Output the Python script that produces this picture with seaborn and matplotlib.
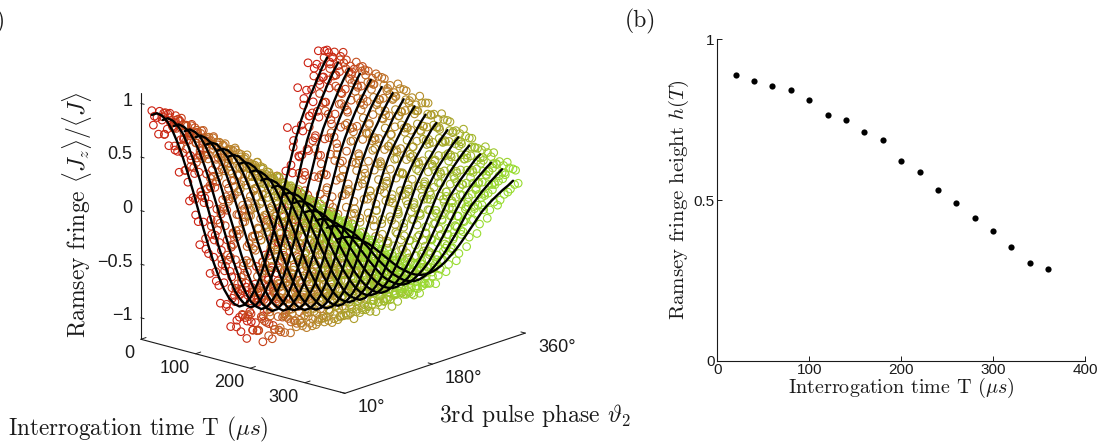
import matplotlib
matplotlib.use('Agg')
from matplotlib import pyplot as plt
import seaborn as sns
import pandas as pd

# valores
times = [20, 40, 60, 80, 100, 120, 140, 160, 180, 200, 220, 240, 260, 280, 300, 320, 340, 360]
heights = [.890, .869, .856, .841, .810, .765, .749, .711, .687, .620, .586, .532, .492, .444, .404, .354, .305, .286]

fit_phases = [10, 30, 50, 70, 90, 110, 130, 150, 170, 190, 210, 230, 250, 270, 290, 310, 330, 350]
fit_z = [
    [.92, .88, .71, .43, .08, -.30, -.65, -.93, -1.10, -1.14, -1.03, -.80, -.48, -.11, .26, .53, .73, .91],
    [.90, .86, .70, .42, .08, -.30, -.64, -.92, -1.08, -1.12, -1.01, -.79, -.48, -.11, .26, .52, .72, .89],
    [.87, .83, .67, .40, .06, -.30, -.64, -.91, -1.07, -1.11, -1.01, -.79, -.48, -.12, .24, .49, .69, .86],
    [.85, .81, .65, .39, .05, -.30, -.64, -.90, -1.06, -1.10, -1.00, -.78, -.48, -.125, .23, .48, .67, .84],
    [.82, .78, .63, .37, .05, -.30, -.62, -.88, -1.03, -1.07, -.97, -.76, -.47, -.125, .22, .46, .65, .81],
    [.78, .75, .60, .35, .04, -.30, -.61, -.86, -1.01, -1.04, -.94, -.74, -.46, -.13, .20, .43, .62, .77],
    [.75, .72, .57, .33, .03, -.29, -.59, -.83, -.98, -1.01, -.92, -.72, -.45, -.13, .19, .42, .59, .74],
    [.72, .69, .55, .32, .03, -.29, -.58, -.81, -.95, -.98, -.89, -.70, -.44, -.13, .18, .40, .57, .71],
    [.68, .65, .52, .30, .02, -.28, -.56, -.78, -.91, -.94, -.85, -.68, -.42, -.13, .16, .37, .53, .67],
    [.63, .60, .48, .27, .01, -.27, -.53, -.74, -.86, -.89, -.81, -.64, -.41, -.13, .15, .34, .49, .62],
    [.58, .55, .44, .25, .005, -.255, -.50, -.69, -.80, -.83, -.76, -.60, -.38, -.125, .13, .31, .45, .57],
    [.54, .51, .41, .23, 0, -.24, -.47, -.65, -.75, -.78, -.71, -.56, -.36, -.12, .12, .29, .42, .53],
    [.50, .48, .38, .21, .01, -.22, -.42, -.59, -.69, -.71, -.65, -.51, -.32, -.105, .11, .27, .39, .49],
    [.45, .43, .34, .19, 0, -.21, -.40, -.55, -.64, -.66, -.60, -.48, -.31, -.105, .10, .24, .35, .44],
    [.39, .37, .29, .16, -.01, -.19, -.36, -.49, -.57, -.59, -.54, -.43, -.28, -.10, .08, .20, .30, .385],
    [.34, .32, .25, .13, -.015, -.175, -.32, -.44, -.51, -.53, -.48, -.39, -.25, -.095, .06, .175, .26, .335],
    [.30, .285, .22, .12, -.01, -.16, -.29, -.39, -.455, -.47, -.43, -.345, -.225, -.085, .055, .15, .23, .30],
    [.22, .21, .16, .08, -.025, -.135, -.24, -.32, -.37, -.38, -.35, -.28, -.19, -.08, .03, .105, .166, .22],
]

fit_phases_mid = [20, 40, 60, 80, 100, 120, 140, 160, 180, 200, 220, 240, 260, 280, 300, 320, 340]
fit_z_mid = [
    [.92, .81, .58, .26, -.11, -.48, -.80, -1.03, -1.14, -1.10, -.93, -.65, -.30, .08, .41, .63, .83],
    [.90, .79, .57, .26, -.11, -.48, -.79, -1.01, -1.12, -1.08, -.92, -.64, -.30, .08, .40, .62, .81],
    [.87, .77, .55, .24, -.12, -.48, -.79, -1.01, -1.11, -1.07, -.91, -.64, -.30, .06, .38, .59, .78],
    [.85, .75, .53, .23, -.125, -.48, -.78, -1.00, -1.10, -1.06, -.90, -.64, -.30, .05, .37, .58, .76],
    [.82, .72, .51, .22, -.125, -.47, -.76, -.97, -1.07, -1.03, -.88, -.62, -.30, .05, .35, .56, .735],
    [.78, .68, .48, .20, -.13, -.46, -.74, -.94, -1.04, -1.01, -.86, -.61, -.30, .04, .33, .525, .70],
    [.75, .66, .46, .19, -.13, -.45, -.72, -.92, -1.01, -.98, -.83, -.59, -.29, .03, .31, .50, .67],
    [.72, .63, .44, .18, -.13, -.44, -.70, -.89, -.98, -.95, -.81, -.58, -.29, .03, .30, .48, .64],
    [.68, .60, .42, .16, -.13, -.42, -.68, -.85, -.94, -.91, -.78, -.56, -.28, .02, .28, .45, .61],
    [.63, .55, .38, .15, -.13, -.41, -.64, -.81, -.89, -.86, -.74, -.53, -.27, .01, .25, .42, .56],
    [.58, .51, .35, .13, -.125, -.38, -.60, -.76, -.83, -.80, -.69, -.50, -.255, .005, .23, .38, .52],
    [.54, .47, .32, .12, -.12, -.36, -.56, -.71, -.78, -.75, -.65, -.47, -.24, 0, .21, .355, .48],
    [.50, .44, .30, .11, -.105, -.32, -.51, -.65, -.71, -.69, -.59, -.42, -.22, .01, .19, .33, .445],
    [.45, .39, .27, .10, -.105, -.31, -.48, -.60, -.66, -.64, -.55, -.40, -.21, 0, .17, .295, .40],
    [.39, .34, .23, .08, -.10, -.28, -.43, -.54, -.59, -.57, -.49, -.36, -.19, -.01, .14, .25, .35],
    [.34, .29, .20, .06, -.095, -.25, -.39, -.48, -.53, -.51, -.44, -.32, -.175, -.015, .12, .22, .30],
    [.30, .26, .175, .055, -.085, -.225, -.345, -.43, -.47, -.455, -.39, -.29, -.16, -.01, .10, .19, .265],
    [.22, .19, .12, .03, -.08, -.19, -.28, -.35, -.38, -.37, -.32, -.24, -.135, -.025, .07, .136, .19],
]

scatter_phases = list(range(10, 361, 10))
scatter_z = [
    [.96, .88, .84, .74, .75, .50, .47, .18, .02, -.22, -.24, -.55, -.60, -.88, -.87, -1.15, -1.02, -1.24, -1.09, -1.22, -.98, -1.03, -.74, -.72, -.41, -.37, -.02, .02, .33, .36, .67, .66, .88, .84, .98, .90],
    [.93, .94, .80, .86, .66, .63, .36, .30, .00, -.03, -.38, -.42, -.70, -.72, -1.02, -.97, -1.20, -1.06, -1.28, -1.02, -1.12, -.84, -.88, -.58, -.55, -.20, -.18, .14, .18, .50, .50, .80, .76, .95, .86, .97],
    [.85, .90, .78, .76, .74, .52, .50, .20, .17, -.18, -.22, -.53, -.57, -.86, -.82, -1.12, -1.03, -1.18, -1.25, -1.03, -1.06, -.72, -.83, -.40, -.53, -.03, -.19, .30, .15, .62, .50, .84, .71, .93, .83, .84],
    [.90, .79, .85, .62, .70, .33, .44, -.01, .11, -.36, -.24, -.69, -.55, -.97, -.85, -1.14, -1.00, -1.36, -1.05, -1.19, -.91, -1.00, -.68, -.72, -.36, -.38, .00, .02, .34, .33, .62, .58, .82, .79, .90, .86],
    [.77, .84, .72, .74, .55, .55, .29, .30, -.03, -.01, -.36, -.28, -.67, -.55, -.94, -.82, -1.11, -.98, -1.16, -1.00, -1.08, -.81, -.85, -.53, -.58, -.16, -.22, .17, .13, .47, .42, .75, .63, .87, .78, .85],
    [.83, .72, .77, .58, .66, .43, .40, .10, .09, -.23, -.16, -.55, -.45, -.77, -.74, -1.06, -.92, -1.14, -1.07, -1.12, -.89, -.98, -.60, -.76, -.27, -.45, .05, -.12, .36, .14, .62, .39, .78, .62, .86, .72],
    [.72, .78, .64, .70, .45, .52, .18, .26, -.11, -.02, -.39, -.22, -.69, -.47, -.92, -.74, -1.09, -.90, -1.15, -.94, -1.05, -.75, -.83, -.50, -.57, -.18, -.26, .13, .06, .44, .36, .70, .54, .80, .68, .81],
    [.75, .68, .72, .57, .60, .34, .41, .06, .11, -.25, -.15, -.52, -.42, -.75, -.68, -.94, -.86, -1.12, -.91, -1.08, -.82, -.94, -.58, -.69, -.29, -.44, .05, -.11, .33, .19, .59, .32, .75, .57, .80, .66],
    [.65, .71, .60, .62, .44, .48, .15, .27, -.10, .00, -.36, -.20, -.63, -.46, -.87, -.68, -1.02, -.83, -1.09, -.86, -.97, -.68, -.83, -.48, -.58, -.18, -.26, .10, .02, .38, .32, .63, .50, .74, .60, .75],
    [.66, .58, .65, .47, .53, .28, .36, .02, .09, -.20, -.13, -.49, -.40, -.68, -.58, -.84, -.76, -1.02, -.81, -1.01, -.75, -.87, -.52, -.62, -.26, -.39, .02, -.08, .30, .16, .52, .30, .69, .49, .73, .60],
    [.56, .62, .52, .57, .36, .44, .12, .26, -.08, .03, -.32, -.18, -.58, -.39, -.79, -.61, -.94, -.74, -1.00, -.78, -.90, -.63, -.76, -.45, -.52, -.16, -.25, .05, .00, .33, .26, .54, .44, .66, .53, .64],
    [.58, .50, .55, .42, .47, .24, .32, .00, .08, -.19, -.15, -.42, -.38, -.61, -.55, -.77, -.66, -.90, -.72, -.92, -.67, -.81, -.48, -.60, -.26, -.35, .00, -.12, .26, .06, .46, .26, .59, .44, .62, .49],
    [.47, .54, .44, .50, .30, .38, .10, .22, -.08, .04, -.30, -.14, -.50, -.34, -.69, -.53, -.83, -.62, -.88, -.67, -.79, -.57, -.65, -.38, -.43, -.13, -.20, .05, .01, .30, .19, .49, .37, .56, .46, .55],
    [.50, .41, .47, .33, .40, .16, .26, -.04, .06, -.17, -.13, -.38, -.30, -.52, -.46, -.70, -.58, -.78, -.61, -.82, -.58, -.72, -.42, -.56, -.25, -.30, -.03, -.10, .19, .02, .36, .20, .47, .33, .51, .41],
    [.35, .44, .32, .42, .21, .31, .05, .18, -.08, .05, -.27, -.11, -.43, -.30, -.57, -.44, -.68, -.52, -.73, -.55, -.67, -.50, -.55, -.34, -.36, -.12, -.18, .05, -.02, .24, .14, .39, .26, .46, .35, .44],
    [.38, .30, .36, .24, .31, .12, .20, -.05, .06, -.14, -.10, -.31, -.25, -.43, -.38, -.56, -.45, -.62, -.50, -.66, -.44, -.58, -.33, -.47, -.19, -.28, -.03, -.14, .13, -.02, .26, .13, .36, .24, .39, .31],
    [.26, .34, .25, .31, .15, .25, .02, .15, -.07, .04, -.24, -.10, -.37, -.24, -.47, -.33, -.56, -.40, -.60, -.43, -.54, -.38, -.44, -.26, -.31, -.09, -.14, .06, .00, .20, .10, .29, .19, .36, .27, .35],
    [.26, .19, .25, .13, .20, .04, .12, -.07, .05, -.11, -.08, -.23, -.18, -.31, -.28, -.42, -.31, -.47, -.33, -.50, -.30, -.42, -.22, -.35, -.12, -.25, -.02, -.16, .09, -.05, .20, .04, .27, .13, .33, .18],
]

# segunda leva de circulos, deslocada 5 graus
scatter_phases_b = list(range(15, 356, 10))
scatter_z_b = [
    [.90, .93, .70, .88, .52, .72, .30, .42, -.15, .05, -.50, -.24, -.83, -.56, -1.08, -.84, -1.26, -1.00, -1.30, -1.05, -1.16, -.80, -.98, -.50, -.66, -.12, -.26, .24, .08, .60, .42, .85, .72, .98, .86],
    [.96, .85, .90, .66, .78, .44, .58, .07, .26, -.32, -.10, -.63, -.42, -.98, -.74, -1.17, -1.00, -1.34, -1.06, -1.24, -.92, -1.04, -.61, -.74, -.28, -.36, .13, -.03, .48, .26, .74, .56, .90, .78, .94],
    [.84, .92, .70, .83, .50, .64, .18, .34, -.24, .03, -.55, -.31, -.88, -.65, -1.14, -.92, -1.30, -1.03, -1.27, -1.00, -1.10, -.70, -.90, -.38, -.62, .00, -.24, .34, .14, .62, .44, .84, .66, .95, .80],
    [.89, .80, .80, .62, .68, .34, .50, .00, .18, -.36, -.10, -.68, -.40, -.94, -.68, -1.17, -.96, -1.28, -1.00, -1.17, -.86, -.96, -.60, -.66, -.24, -.30, .12, .00, .46, .26, .71, .54, .88, .74, .90],
    [.80, .86, .62, .77, .42, .60, .14, .30, -.22, .00, -.52, -.28, -.82, -.58, -1.08, -.88, -1.26, -.96, -1.20, -.98, -1.02, -.73, -.80, -.40, -.52, -.06, -.16, .28, .14, .58, .42, .78, .66, .90, .76],
    [.84, .74, .76, .55, .62, .30, .46, -.02, .16, -.36, -.08, -.65, -.38, -.90, -.62, -1.08, -.88, -1.17, -.94, -1.10, -.78, -.91, -.52, -.62, -.20, -.28, .12, -.03, .44, .22, .66, .46, .82, .66, .84],
    [.70, .79, .56, .70, .36, .54, .09, .28, -.22, .00, -.50, -.26, -.78, -.53, -1.00, -.80, -1.15, -.90, -1.12, -.90, -.96, -.68, -.76, -.36, -.49, -.04, -.15, .26, .12, .53, .38, .72, .60, .82, .70],
    [.78, .66, .70, .50, .58, .26, .42, -.06, .12, -.36, -.06, -.63, -.34, -.86, -.58, -1.02, -.80, -1.08, -.84, -1.02, -.70, -.86, -.46, -.60, -.16, -.26, .14, -.04, .42, .20, .62, .42, .76, .60, .78],
    [.64, .74, .52, .64, .32, .48, .06, .25, -.22, .00, -.48, -.24, -.72, -.48, -.93, -.70, -1.06, -.82, -1.02, -.82, -.89, -.62, -.68, -.34, -.44, -.03, -.12, .24, .10, .48, .32, .66, .50, .76, .62],
    [.69, .58, .63, .42, .50, .20, .36, -.08, .10, -.34, -.06, -.60, -.30, -.79, -.52, -.92, -.72, -.99, -.76, -.92, -.62, -.79, -.41, -.54, -.12, -.26, .12, -.06, .36, .15, .55, .36, .68, .52, .72],
    [.54, .63, .44, .55, .26, .42, .02, .20, -.24, -.02, -.46, -.22, -.66, -.42, -.83, -.60, -.94, -.72, -.92, -.72, -.80, -.54, -.60, -.30, -.38, -.04, -.12, .20, .08, .42, .26, .58, .44, .66, .52],
    [.60, .50, .52, .36, .42, .16, .30, -.08, .07, -.30, -.06, -.52, -.28, -.70, -.46, -.84, -.63, -.88, -.68, -.82, -.55, -.70, -.34, -.48, -.10, -.24, .10, -.06, .30, .10, .46, .28, .56, .44, .60],
    [.47, .56, .38, .46, .20, .34, -.01, .16, -.22, -.02, -.40, -.19, -.58, -.35, -.72, -.50, -.81, -.58, -.80, -.60, -.71, -.46, -.54, -.26, -.32, -.03, -.10, .18, .07, .35, .22, .49, .35, .56, .44],
    [.52, .42, .44, .28, .35, .10, .24, -.10, .04, -.27, -.06, -.44, -.24, -.58, -.40, -.71, -.50, -.75, -.54, -.71, -.46, -.60, -.26, -.42, -.06, -.24, .10, -.06, .26, .08, .39, .24, .48, .36, .50],
    [.36, .46, .30, .37, .14, .27, -.03, .12, -.18, -.02, -.33, -.16, -.48, -.28, -.59, -.41, -.69, -.48, -.66, -.48, -.58, -.36, -.45, -.18, -.25, -.03, -.06, .14, .04, .28, .16, .39, .26, .45, .35],
    [.42, .30, .35, .20, .27, .06, .16, -.08, .02, -.22, -.06, -.36, -.18, -.49, -.32, -.60, -.42, -.63, -.44, -.60, -.36, -.48, -.20, -.36, -.05, -.20, .08, -.06, .22, .04, .30, .18, .38, .26, .42],
    [.27, .37, .22, .31, .10, .22, -.02, .10, -.17, -.02, -.31, -.14, -.40, -.22, -.50, -.32, -.58, -.38, -.54, -.38, -.48, -.30, -.36, -.14, -.20, .00, -.06, .14, .04, .25, .13, .32, .20, .38, .26],
    [.27, .16, .23, .08, .16, -.02, .08, -.12, -.01, -.20, -.08, -.31, -.14, -.38, -.24, -.49, -.28, -.47, -.30, -.43, -.22, -.36, -.12, -.29, -.01, -.17, .08, -.08, .17, .02, .24, .08, .30, .15, .31],
]

# terceira leva, mais espalhada nos flancos e no vale
scatter_phases_c = list(range(13, 354, 10))
scatter_z_c = [
    [.82, .72, .90, .58, .78, .30, .60, .00, .24, -.44, -.02, -.74, -.40, -1.05, -.72, -1.30, -.96, -1.38, -.98, -1.32, -.82, -1.14, -.42, -.88, -.04, -.50, .38, -.06, .72, .30, .92, .54, 1.00, .74, .95],
    [.76, .90, .62, .84, .36, .70, .06, .46, -.34, .12, -.68, -.16, -1.04, -.50, -1.26, -.86, -1.40, -.94, -1.36, -.84, -1.20, -.54, -.96, -.16, -.66, .24, -.24, .60, .16, .84, .44, .98, .68, 1.00, .80],
    [.92, .66, .84, .44, .74, .14, .56, -.18, .22, -.52, -.08, -.82, -.36, -1.10, -.72, -1.28, -.94, -1.42, -.92, -1.30, -.78, -1.10, -.36, -.82, .04, -.44, .44, -.04, .72, .28, .92, .48, .97, .68, .88],
    [.68, .88, .52, .80, .24, .64, -.08, .38, -.44, .08, -.74, -.18, -1.06, -.46, -1.24, -.82, -1.32, -.86, -1.30, -.76, -1.14, -.44, -.90, -.08, -.56, .28, -.16, .60, .18, .80, .40, .93, .62, .96, .72],
    [.88, .60, .78, .34, .68, .08, .48, -.20, .18, -.50, -.08, -.80, -.30, -1.02, -.66, -1.22, -.84, -1.28, -.84, -1.20, -.64, -1.02, -.26, -.74, .08, -.36, .44, -.02, .68, .22, .84, .42, .92, .62, .82],
    [.64, .82, .44, .72, .18, .56, -.12, .32, -.46, .04, -.72, -.16, -.98, -.42, -1.16, -.76, -1.24, -.76, -1.18, -.66, -1.00, -.38, -.82, -.02, -.50, .28, -.12, .54, .16, .74, .34, .86, .54, .88, .66],
    [.82, .54, .72, .28, .60, .00, .42, -.26, .12, -.52, -.10, -.78, -.30, -.98, -.62, -1.14, -.74, -1.18, -.72, -1.08, -.54, -.92, -.18, -.66, .12, -.32, .42, -.02, .60, .18, .76, .36, .84, .54, .74],
    [.58, .78, .38, .66, .10, .50, -.16, .26, -.44, .02, -.70, -.16, -.90, -.42, -1.06, -.68, -1.12, -.68, -1.06, -.54, -.90, -.28, -.74, .04, -.44, .28, -.10, .50, .14, .68, .30, .80, .48, .82, .60],
    [.74, .46, .62, .22, .52, -.04, .34, -.28, .06, -.54, -.14, -.74, -.30, -.92, -.56, -1.04, -.66, -1.06, -.60, -.98, -.46, -.80, -.14, -.56, .14, -.24, .40, .00, .56, .16, .70, .32, .76, .46, .68],
    [.52, .70, .32, .58, .06, .42, -.20, .20, -.46, -.04, -.68, -.18, -.84, -.42, -.96, -.60, -1.00, -.58, -.94, -.44, -.78, -.18, -.62, .08, -.36, .28, -.06, .46, .12, .60, .26, .72, .40, .74, .50],
    [.68, .40, .56, .16, .46, -.08, .28, -.30, .02, -.54, -.16, -.70, -.30, -.84, -.50, -.94, -.56, -.94, -.50, -.84, -.36, -.68, -.06, -.48, .16, -.20, .36, .00, .50, .12, .62, .26, .68, .40, .60],
    [.44, .62, .24, .50, .02, .36, -.22, .14, -.44, -.08, -.62, -.22, -.76, -.38, -.86, -.54, -.88, -.50, -.80, -.34, -.64, -.10, -.50, .10, -.28, .26, -.04, .40, .10, .52, .20, .62, .32, .64, .42],
    [.60, .32, .50, .12, .38, -.10, .22, -.32, -.02, -.48, -.18, -.64, -.28, -.76, -.44, -.80, -.46, -.80, -.42, -.70, -.28, -.56, -.02, -.38, .14, -.14, .30, .02, .42, .10, .54, .22, .58, .32, .52],
    [.36, .52, .20, .40, -.02, .28, -.22, .10, -.40, -.10, -.54, -.24, -.66, -.34, -.74, -.44, -.74, -.42, -.68, -.26, -.54, -.08, -.42, .08, -.24, .20, -.04, .32, .06, .42, .14, .50, .24, .54, .34],
    [.50, .26, .40, .08, .30, -.12, .16, -.30, -.04, -.42, -.18, -.54, -.24, -.64, -.36, -.68, -.38, -.66, -.32, -.58, -.20, -.44, .02, -.30, .12, -.12, .24, .00, .34, .06, .44, .16, .48, .26, .42],
    [.26, .42, .12, .32, -.04, .22, -.20, .06, -.34, -.10, -.46, -.20, -.54, -.30, -.60, -.36, -.58, -.32, -.54, -.20, -.42, -.06, -.32, .06, -.18, .16, -.04, .26, .04, .34, .10, .40, .18, .44, .28],
    [.40, .18, .32, .04, .24, -.10, .12, -.26, -.04, -.36, -.16, -.46, -.22, -.52, -.30, -.56, -.28, -.52, -.24, -.46, -.14, -.34, .02, -.24, .10, -.10, .18, -.02, .26, .04, .34, .12, .38, .20, .33],
    [.12, .30, .04, .22, -.06, .14, -.18, .02, -.28, -.10, -.36, -.18, -.42, -.24, -.46, -.26, -.44, -.24, -.38, -.12, -.30, -.02, -.22, .06, -.10, .12, -.02, .20, .04, .26, .08, .31, .12, .35, .18],
]

sns.set_style('white')
plt.rcParams['mathtext.fontset'] = 'cm'
plt.rcParams['font.family'] = ['Liberation Sans', 'DejaVu Sans']
label_font = 'cmr10'
ink = '#1a1a1a'

W, H = 1103, 444
fig = plt.figure(figsize=(W / 100, H / 100), dpi=100, facecolor='white')

# painel (a): projecao ortogonal calibrada pelos eixos da figura
T_MAX = 373
ax = fig.add_axes([102 / W, 0, 450 / W, 450 / H], projection='3d', computed_zorder=False)
ax.set_proj_type('ortho')
ax.view_init(elev=17.3, azim=-48.3)
ax.set_box_aspect((273, 271, 258), zoom=1)
ax.set_xlim(0, T_MAX)
ax.set_ylim(10, 360)
ax.set_zlim(-1.2, 1.1)
ax.set_axis_off()
ax.patch.set_alpha(0)

colors = sns.blend_palette(['#cc1f10', '#bd7a2a', '#a8a82a', '#98dc30'], len(times))

for t, za, zb, zc, c in zip(times, scatter_z, scatter_z_b, scatter_z_c, colors):
    ps = scatter_phases + scatter_phases_b + scatter_phases_c
    zs = za + zb + zc
    ax.scatter([t] * len(zs), ps, zs, s=30, facecolors='none', edgecolors=[c],
               linewidths=0.8, depthshade=False, zorder=2)

for t, za, zb in zip(times, fit_z, fit_z_mid):
    curve = pd.DataFrame({'p': fit_phases + fit_phases_mid, 'z': za + zb}).sort_values('p')
    ax.plot([t] * len(curve), curve['p'], curve['z'], color='black', lw=1.7, zorder=3)

# linhas dos eixos
ax.plot([0, 0], [10, 10], [-1.2, 1.1], color=ink, lw=0.8, zorder=4)
ax.plot([0, T_MAX], [10, 10], [-1.2, -1.2], color=ink, lw=0.8, zorder=4)
ax.plot([T_MAX, T_MAX], [10, 360], [-1.2, -1.2], color=ink, lw=0.8, zorder=4)

for z, lab in zip([-1, -.5, 0, .5, 1], ['\u22121', '\u22120.5', '0', '0.5', '1']):
    ax.plot([0, 6], [10, 10], [z, z], color=ink, lw=0.7, zorder=4)
    ax.text(-15, 10, z, lab, ha='right', va='center', fontsize=13, color=ink)

for t in [0, 100, 200, 300]:
    ax.plot([t, t], [10, 20], [-1.2, -1.2], color=ink, lw=0.7, zorder=4)
    ax.text(t + 38, 10 - 52, -1.2, str(t), ha='right', va='center', fontsize=13, color=ink)

for p, lab in zip([10, 180, 360], ['10\u00b0', '180\u00b0', '360\u00b0']):
    ax.plot([T_MAX, T_MAX - 8], [p, p], [-1.2, -1.2], color=ink, lw=0.7, zorder=4)
    ax.text(T_MAX + 56, p - 35, -1.2, lab, ha='left', va='center', fontsize=13, color=ink)

fig.text(77 / W, 1 - 215 / H, r'Ramsey fringe $\langle J_z\rangle/\langle J\rangle$', rotation=90,
         ha='center', va='center', fontsize=17, family=label_font, color=ink)
fig.text(138 / W, 1 - 429 / H, r'Interrogation time T $(\mu s)$', ha='center', va='center',
         fontsize=16.7, family=label_font, color=ink)
fig.text(535 / W, 1 - 415 / H, r'3rd pulse phase $\vartheta_2$', ha='center', va='center',
         fontsize=17, family=label_font, color=ink)
fig.text(6 / W, 1 - 21 / H, '(a)', ha='right', va='center', fontsize=17, family=label_font, color=ink)
fig.text(640 / W, 1 - 21 / H, '(b)', ha='center', va='center', fontsize=17, family=label_font, color=ink)

# painel (b)
ax2 = fig.add_axes([717.3 / W, 1 - 360.7 / H, 367.7 / W, 321.4 / H])
df = pd.DataFrame({'T': times, 'h': heights})
sns.scatterplot(data=df, x='T', y='h', color='black', s=20, linewidth=0, ax=ax2)
ax2.set_xlim(0, 400)
ax2.set_ylim(0, 1)
ax2.set_xticks([0, 100, 200, 300, 400])
ax2.set_yticks([0, .5, 1])
ax2.set_yticklabels(['0', '0.5', '1'])
ax2.tick_params(direction='in', length=3.5, width=0.7, labelsize=11, colors=ink, pad=2,
                bottom=True, left=True)
ax2.spines['top'].set_visible(False)
ax2.spines['right'].set_visible(False)
ax2.spines['left'].set_edgecolor(ink)
ax2.spines['bottom'].set_edgecolor(ink)
ax2.set_xlabel(r'Interrogation time T $(\mu s)$', fontsize=14.5, family=label_font, color=ink, labelpad=-1)
ax2.set_ylabel(r'Ramsey fringe height $h(T)$', fontsize=15, family=label_font, color=ink, labelpad=2)

fig.savefig('out.png', dpi=100)
